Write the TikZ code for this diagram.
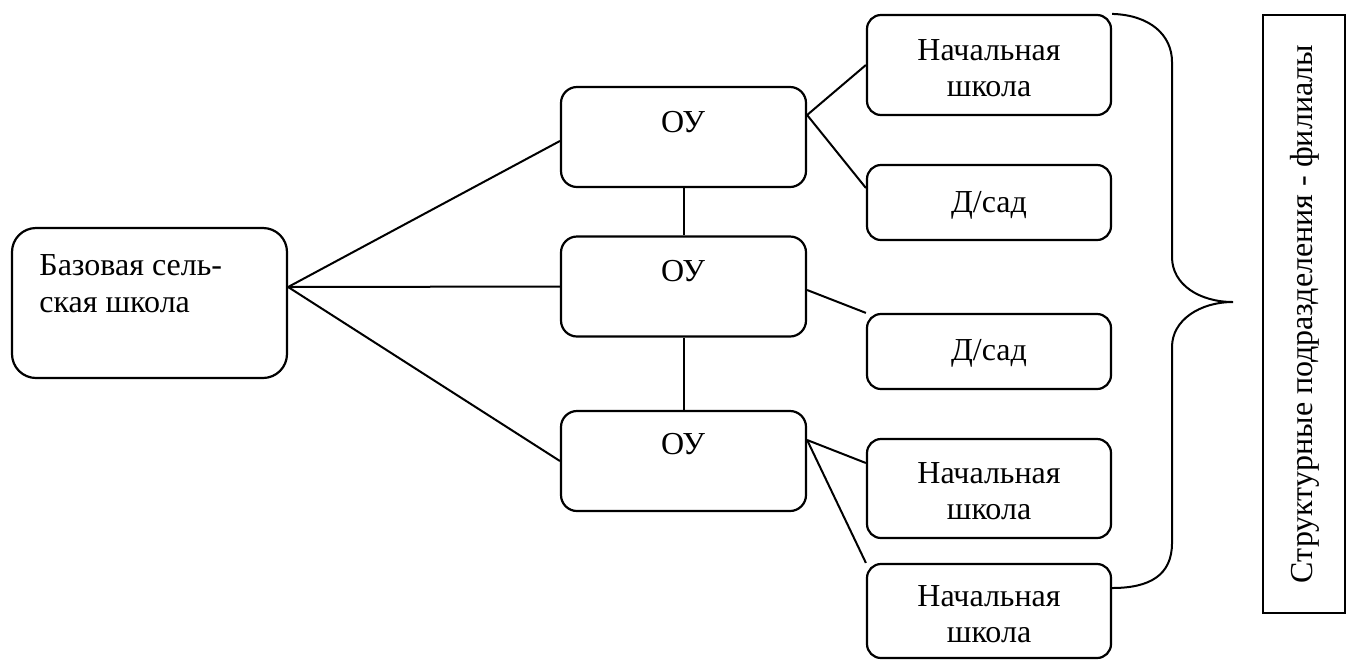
\documentclass[tikz,border=0pt]{standalone}
\usepackage{fontspec}
\setmainfont{Liberation Serif}
\begin{document}
\begin{tikzpicture}[x=0.5pt,y=-0.5pt,
  box/.style={draw,line width=1.1pt,inner sep=0pt},
  ou/.style={box,rounded corners=8pt,minimum width=122.5pt,minimum height=50pt},
  sub/.style={box,rounded corners=7pt,minimum width=122pt},
  lbl/.style={inner sep=0pt,anchor=base,align=center,font=\fontsize{16}{18}\selectfont},
  conn/.style={line width=1pt}]
\useasboundingbox (0,0) rectangle (1347,660);
% boxes
\node[box,rounded corners=12pt,minimum width=137.5pt,minimum height=75pt] (base) at (149.5,303) {};
\node[ou] (ou1) at (683.5,137) {};
\node[ou] (ou2) at (683.5,286.5) {};
\node[ou] (ou3) at (683.5,461) {};
\node[sub,minimum height=50pt] (ns1) at (989,65) {};
\node[sub,minimum height=37.5pt] (ds1) at (989,202.5) {};
\node[sub,minimum height=37.5pt] (ds2) at (989,351.5) {};
\node[sub,minimum height=49.5pt] (ns2) at (989,488.5) {};
\node[sub,minimum height=47pt] (ns3) at (989,611) {};
\node[box,minimum width=41pt,minimum height=299pt] (side) at (1304,314) {};
% texts
\node[lbl,anchor=base west,align=left,font=\fontsize{16}{18.5}\selectfont] (tbase) at (39,312) {Базовая сель-\\ская школа};
\node[lbl] (tou1) at (683,132) {ОУ};
\node[lbl] (tou2) at (683,281) {ОУ};
\node[lbl] (tou3) at (683,454) {ОУ};
\node[lbl] (tns1) at (989,96) {Начальная\\школа};
\node[lbl] (tds1) at (989,212) {Д/сад};
\node[lbl] (tds2) at (989,360) {Д/сад};
\node[lbl] (tns2) at (989,519) {Начальная\\школа};
\node[lbl] (tns3) at (989,642) {Начальная\\школа};
\node[inner sep=0pt,rotate=90,font=\fontsize{16}{18}\selectfont] (tside) at (1305,314) {Структурные подразделения - филиалы};
% connectors
\draw[conn] ([yshift=8pt]base.east) -- ([yshift=-2pt]ou1.west);
\draw[conn] ([yshift=8pt]base.east) -- (ou2.west);
\draw[conn] ([yshift=8pt]base.east) -- (ou3.west);
\draw[conn] (ou1.south) -- (ou2.north);
\draw[conn] (ou2.south) -- (ou3.north);
\draw[conn] ([yshift=11pt]ou1.east) -- (ns1.west);
\draw[conn] ([yshift=11pt]ou1.east) -- ([yshift=7.25pt]ds1.west);
\draw[conn] ([yshift=-1.75pt]ou2.east) -- (ds2.north west);
\draw[conn] ([yshift=10.5pt]ou3.east) -- ([yshift=12.75pt]ns2.west);
\draw[conn] ([yshift=10.5pt]ou3.east) -- (ns3.north west);
% brace
\draw[conn] (ns1.north east) .. controls (1150,15) and (1172,35) .. (1172,62)
  -- (1172,257) .. controls (1172,285) and (1200,302) .. (1233,302)
  .. controls (1200,302) and (1172,320) .. (1172,347)
  -- (1172,543) .. controls (1172,575) and (1150,588) .. ([yshift=11.5pt]ns3.east);
\end{tikzpicture}
\end{document}
